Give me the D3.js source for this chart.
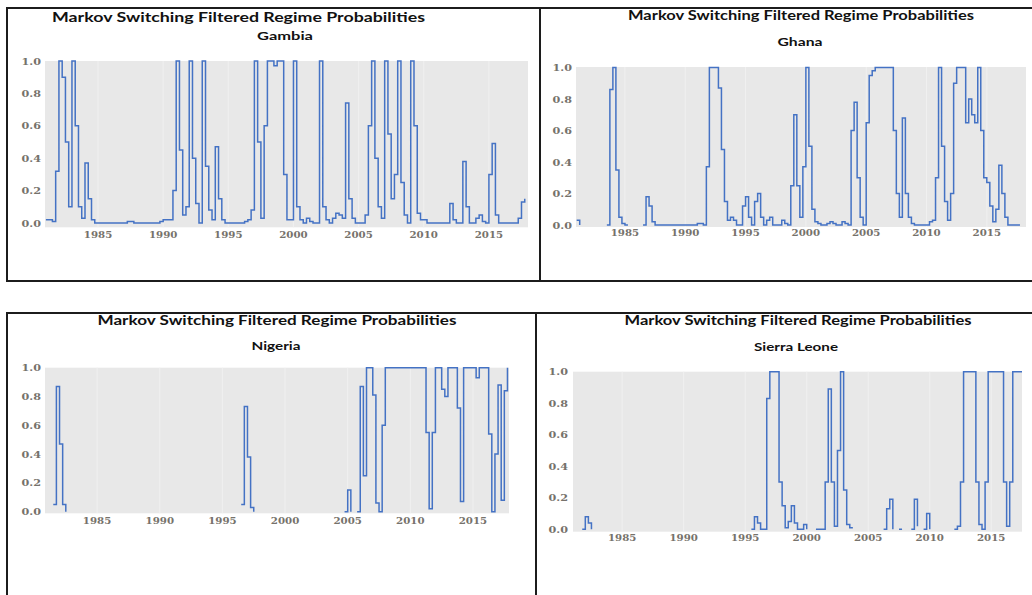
<!DOCTYPE html>
<html><head><meta charset="utf-8">
<script src="https://cdn.jsdelivr.net/npm/d3@7"></script>
<style>body{margin:0;background:#fff}svg{display:block}</style>
</head><body><svg id="c" width="1032" height="595"></svg>
<script>
const startYear = 1981;           // first quarter 1981Q1, quarterly observations
const tickYears = [1985, 1990, 1995, 2000, 2005, 2010, 2015];
const yTicks = [0, 0.2, 0.4, 0.6, 0.8, 1.0];
const chartTitle = "Markov Switching Filtered Regime Probabilities";
const countries = ["Gambia", "Ghana", "Nigeria", "Sierra Leone"];

const gambia = [
 0.02,0.02,0.01,0.32,1.0,0.9,0.5,0.1,1.0,0.6,
 0.1,0.03,0.37,0.15,0.02,0.0,0.0,0.0,0.0,0.0,
 0.0,0.0,0.0,0.0,0.0,0.01,0.01,0.0,0.0,0.0,
 0.0,0.0,0.0,0.0,0.0,0.01,0.02,0.02,0.02,0.2,
 1.0,0.45,0.05,0.1,1.0,0.4,0.12,0.0,1.0,0.35,
 0.08,0.02,0.47,0.15,0.02,0.0,0.0,0.0,0.0,0.0,
 0.0,0.01,0.02,0.08,1.0,0.5,0.03,0.6,1.0,1.0,
 0.97,1.0,1.0,0.3,0.02,0.02,1.0,0.1,0.02,0.0,
 0.03,0.01,0.0,0.0,1.0,0.1,0.02,0.0,0.03,0.06,
 0.05,0.03,0.74,0.15,0.03,0.0,0.0,0.0,0.05,0.6,
 1.0,0.4,0.1,0.03,1.0,0.55,0.15,0.3,1.0,0.25,
 0.05,0.0,1.0,0.6,0.06,0.02,0.02,0.0,0.0,0.0,
 0.0,0.0,0.0,0.0,0.12,0.02,0.0,0.0,0.38,0.1,
 0.0,0.0,0.03,0.05,0.01,0.0,0.3,0.49,0.05,0.0,
 0.0,0.0,0.0,0.0,0.0,0.03,0.13,0.15
];
const ghana = [
 0.03,0.0,null,null,null,null,null,null,null,null,
 0.0,0.86,1.0,0.35,0.05,0.01,0.0,0.0,null,null,
 null,null,0.0,0.18,0.12,0.02,0.0,0.0,0.0,0.0,
 0.0,0.0,0.0,0.0,0.0,0.0,0.0,0.0,0.0,0.0,
 0.01,0.01,0.0,0.37,1.0,1.0,1.0,0.87,0.48,0.15,
 0.03,0.05,0.03,0.0,0.0,0.12,0.18,0.05,0.0,0.15,
 0.2,0.05,0.0,0.03,0.05,0.0,0.0,0.0,0.03,0.01,
 0.0,0.25,0.7,0.25,0.05,0.37,1.0,0.5,0.1,0.02,
 0.01,0.0,0.0,0.01,0.02,0.01,0.0,0.0,0.02,0.01,
 0.0,0.6,0.78,0.3,0.05,0.0,0.65,0.95,0.98,1.0,
 1.0,1.0,1.0,1.0,1.0,0.6,0.2,0.05,0.68,0.2,
 0.05,0.01,0.0,0.0,0.0,0.0,0.0,0.02,0.03,0.3,
 1.0,0.5,0.15,0.03,0.2,0.9,1.0,1.0,1.0,0.65,
 0.8,0.7,0.65,1.0,0.6,0.3,0.27,0.12,0.02,0.1,
 0.38,0.2,0.05,0.0,0.0,0.0,0.0,0.0
];
const nigeria = [
 null,null,0.05,0.87,0.47,0.05,0.0,null,null,null,
 null,null,null,null,null,null,null,null,null,null,
 null,null,null,null,null,null,null,null,null,null,
 null,null,null,null,null,null,null,null,null,null,
 null,null,null,null,null,null,null,null,null,null,
 null,null,null,null,null,null,null,null,null,null,
 null,null,0.05,0.73,0.38,0.03,0.0,null,null,null,
 null,null,null,null,null,null,null,null,null,null,
 null,null,null,null,null,null,null,null,null,null,
 null,null,null,null,null,0.0,0.15,0.0,null,0.0,
 0.87,0.25,1.0,1.0,0.81,0.06,0.0,0.6,1.0,1.0,
 1.0,1.0,1.0,1.0,1.0,1.0,1.0,1.0,1.0,1.0,
 1.0,0.55,0.02,0.55,1.0,1.0,0.85,0.8,1.0,1.0,
 1.0,0.72,0.07,1.0,1.0,1.0,1.0,0.93,1.0,1.0,
 1.0,0.54,0.0,0.4,0.88,0.08,0.84,1.0
];
const sierraLeone = [
 null,null,null,0.0,0.08,0.04,0.0,null,null,null,
 null,null,null,null,null,null,null,null,null,null,
 null,null,null,null,null,null,null,null,null,null,
 null,null,null,null,null,null,null,null,null,null,
 null,null,null,null,null,null,null,null,null,null,
 null,null,null,null,null,null,null,null,0.0,0.08,
 0.04,0.0,0.0,0.83,1.0,1.0,1.0,0.3,0.15,0.01,
 0.05,0.15,0.04,0.0,0.0,0.03,0.0,null,null,0.0,
 0.0,0.0,0.3,0.89,0.3,0.02,0.5,1.0,0.25,0.03,
 0.01,0.01,null,null,null,null,null,null,null,null,
 null,0.0,0.13,0.19,0.0,null,0.0,0.0,null,null,
 0.0,0.19,0.02,null,0.0,0.1,0.0,null,null,null,
 null,null,null,null,0.0,0.02,0.3,1.0,1.0,1.0,
 1.0,0.3,0.03,0.0,0.3,1.0,1.0,1.0,1.0,1.0,
 0.3,0.02,0.3,1.0,1.0,1.0,1.0
];

const seriesByCountry = {"Gambia": gambia, "Ghana": ghana, "Nigeria": nigeria, "Sierra Leone": sierraLeone};

// layout (pixels)
const panels = [
 {name:"Gambia", box:[7,8,540,281], gray:[45,61,528,227.3], xDom:[1981,2018], xRng:[45.9,528], yRng:[223,61],
  title:[238.5,21.5,373], sub:[285,39.5,56], yLabX:41, xLabY:234.3},
 {name:"Ghana", box:[540,8,1036,281], gray:[576,67,1026,227], xDom:[1981,2018.25], xRng:[576.7,1026], yRng:[225,67.5],
  title:[801,20.3,346], sub:[800,45.7,45], yLabX:572, xLabY:232.7},
 {name:"Nigeria", box:[7,313,536,600], gray:[45,367.7,509,513.3], xDom:[1981,2018], xRng:[47,510.6], yRng:[511.7,367.7],
  title:[277,325.3,359], sub:[276,349.5,49], yLabX:41, xLabY:520},
 {name:"Sierra Leone", box:[536,313,1036,600], gray:[573,371.7,1022,531.7], xDom:[1981,2017.5], xRng:[573,1022], yRng:[529.3,371.7],
  title:[798,324.8,347], sub:[796,350.7,84], yLabX:568, xLabY:537.7}
];

const svg = d3.select("#c");
svg.append("rect").attr("width",1032).attr("height",595).attr("fill","#fff");

panels.forEach(p => {
  const g = svg.append("g");
  const vals = seriesByCountry[p.name];
  const data = vals.map((v,i) => ({t: startYear + i/4, v: v}));
  const x = d3.scaleLinear().domain(p.xDom).range(p.xRng);
  const y = d3.scaleLinear().domain([0,1]).range(p.yRng);

  // plot background
  g.append("rect").attr("x",p.gray[0]).attr("y",p.gray[1])
    .attr("width",p.gray[2]-p.gray[0]).attr("height",p.gray[3]-p.gray[1])
    .attr("fill","#e8e8e8");
  // vertical grid
  g.selectAll("line.grid").data(tickYears).enter().append("line")
    .attr("x1",d=>x(d)).attr("x2",d=>x(d)).attr("y1",p.gray[1]).attr("y2",p.gray[3])
    .attr("stroke","#f0f0f0").attr("stroke-width",1);

  // y labels
  g.selectAll("text.yl").data(yTicks).enter().append("text")
    .attr("x",p.yLabX).attr("y",d=>y(d)).attr("dy","0.35em")
    .attr("text-anchor","end")
    .attr("font-family","'DejaVu Serif', serif").attr("font-size",10).attr("font-weight","bold")
    .attr("fill","#76726b")
    .attr("textLength",19.5).attr("lengthAdjust","spacingAndGlyphs")
    .text(d=>d.toFixed(1));
  // x labels
  g.selectAll("text.xl").data(tickYears).enter().append("text")
    .attr("x",d=>x(d)).attr("y",p.xLabY).attr("dy","0.35em")
    .attr("text-anchor","middle")
    .attr("font-family","'DejaVu Serif', serif").attr("font-size",10).attr("font-weight","bold")
    .attr("fill","#76726b")
    .attr("textLength",28.5).attr("lengthAdjust","spacingAndGlyphs")
    .text(d=>d);

  // line
  const line = d3.line().defined(d=>d.v!==null).x(d=>x(d.t)).y(d=>y(d.v)).curve(d3.curveStepAfter);
  g.append("path").datum(data).attr("d",line)
    .attr("fill","none").attr("stroke","#4472c4").attr("stroke-width",1.5);

  // titles
  g.append("text").attr("x",p.title[0]).attr("y",p.title[1]).attr("text-anchor","middle")
    .attr("font-family","Lato, 'Open Sans', sans-serif").attr("font-weight","bold").attr("font-size",13)
    .attr("fill","#111")
    .attr("textLength",p.title[2]).attr("lengthAdjust","spacingAndGlyphs")
    .text(chartTitle);
  g.append("text").attr("x",p.sub[0]).attr("y",p.sub[1]).attr("text-anchor","middle")
    .attr("font-family","Lato, 'Open Sans', sans-serif").attr("font-weight","bold").attr("font-size",11.5)
    .attr("fill","#111")
    .attr("textLength",p.sub[2]).attr("lengthAdjust","spacingAndGlyphs")
    .text(p.name);

  // border
  g.append("rect").attr("x",p.box[0]).attr("y",p.box[1])
    .attr("width",p.box[2]-p.box[0]).attr("height",p.box[3]-p.box[1])
    .attr("fill","none").attr("stroke","#1c1c1c").attr("stroke-width",2);
});
</script></body></html>
